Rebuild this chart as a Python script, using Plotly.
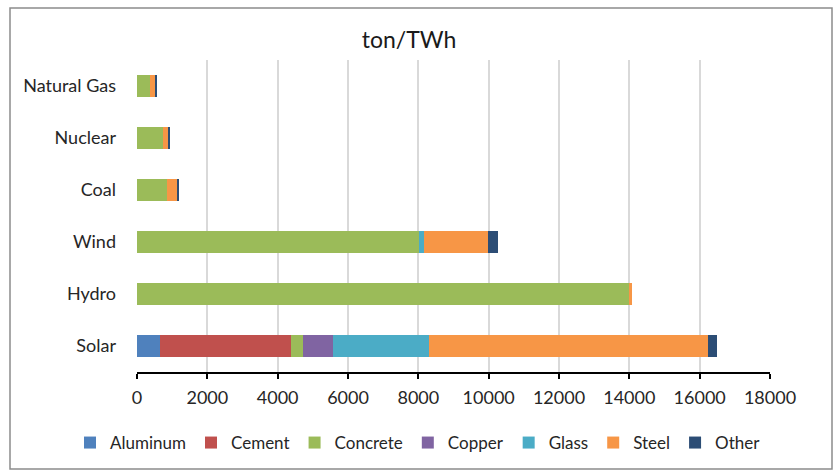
import plotly.graph_objects as go

# Technologies, bottom to top
sources = ["Solar", "Hydro", "Wind", "Coal", "Nuclear", "Natural Gas"]

# Material intensity (ton/TWh) per technology, same order as sources
aluminum = [650, 0, 0, 0, 0, 0]
cement = [3720, 0, 0, 0, 0, 0]
concrete = [360, 14000, 8030, 860, 730, 370]
copper = [830, 0, 0, 0, 0, 0]
glass = [2730, 0, 120, 0, 0, 0]
steel = [7940, 70, 1820, 285, 170, 150]
other = [270, 0, 300, 30, 30, 40]

materials = ["Aluminum", "Cement", "Concrete", "Copper", "Glass", "Steel", "Other"]
series = [aluminum, cement, concrete, copper, glass, steel, other]
colors = ["#4F81BD", "#C0504D", "#9BBB59", "#8064A2", "#4BACC6", "#F79646", "#2C4D75"]

x_ticks = list(range(0, 18001, 2000))
x_labels = [str(v) for v in x_ticks]

FONT = "Lato, 'Open Sans', sans-serif"
TXT = "#262626"

fig = go.Figure()
for name, vals, col in zip(materials, series, colors):
    fig.add_trace(go.Bar(
        y=sources, x=vals, name=name, orientation="h",
        marker=dict(color=col, line=dict(width=0)),
    ))

fig.update_layout(
    barmode="stack",
    bargap=0.59,
    width=835, height=471,
    margin=dict(l=137, r=65, t=60, b=99, autoexpand=False),
    paper_bgcolor="white",
    plot_bgcolor="white",
    font=dict(family=FONT, size=18, color=TXT),
    title=dict(text="ton/TWh", x=409 / 835, xref="container", y=1 - 40 / 471,
               xanchor="center", yanchor="middle",
               font=dict(family=FONT, size=23, color="#1a1a1a")),
    showlegend=True,
    legend=dict(orientation="h", x=(70 - 137) / 633, xanchor="left",
                y=(372 - 443) / 312, yanchor="middle",
                traceorder="normal", bgcolor="rgba(0,0,0,0)",
                font=dict(family=FONT, size=17, color=TXT),
                itemwidth=30),
    xaxis=dict(
        range=[0, 18000], tickvals=x_ticks, ticktext=x_labels,
        showgrid=True, gridcolor="#d9d9d9", gridwidth=1.5,
        zeroline=False,
        showline=True, linecolor="black", linewidth=1.5,
        ticks="outside", ticklen=5, tickcolor="black", tickwidth=1.5,
        ticklabelstandoff=4,
        tickfont=dict(family=FONT, size=18, color=TXT),
        fixedrange=True,
    ),
    yaxis=dict(
        categoryorder="array", categoryarray=sources,
        showgrid=False, showline=False, zeroline=False,
        ticks="", ticklabelstandoff=20,
        tickfont=dict(family=FONT, size=18, color=TXT),
        fixedrange=True,
    ),
    shapes=[dict(type="rect", xref="paper", yref="paper",
                 x0=(10 - 137) / 633, x1=(832 - 137) / 633,
                 y0=(372 - 469) / 312, y1=(372 - 8) / 312,
                 line=dict(color="#8c8c8c", width=1.5), layer="below")],
)

fig.write_html("out.html")
